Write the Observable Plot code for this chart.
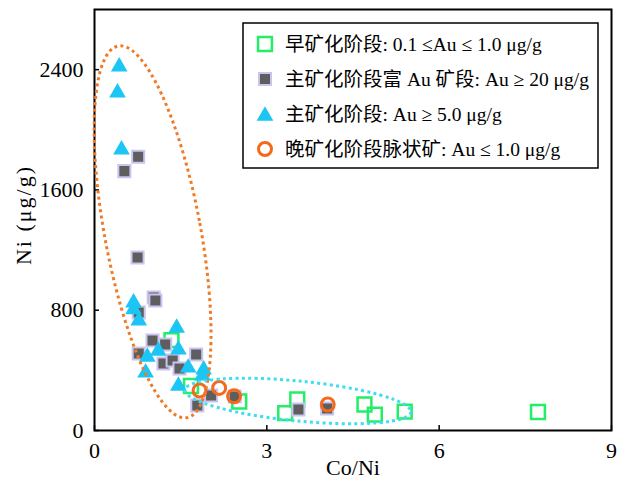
<!DOCTYPE html>
<html><head><meta charset="utf-8">
<script src="https://cdn.jsdelivr.net/npm/d3@7"></script>
<script src="https://cdn.jsdelivr.net/npm/@observablehq/plot@0.6"></script>
<style>body{margin:0;background:#fff}</style>
</head><body><div id="chart"></div>
<script>
// axis ticks
const xTicks = [0, 3, 6, 9];
const yTicks = [0, 800, 1600, 2400];
const xLabel = "Co/Ni";
const yLabel = "Ni (μg/g)";

// series names
const seriesNames = [
  "早矿化阶段: 0.1 ≤Au ≤ 1.0 μg/g",
  "主矿化阶段富 Au 矿段: Au ≥ 20 μg/g",
  "主矿化阶段: Au ≥ 5.0 μg/g",
  "晚矿化阶段脉状矿: Au ≤ 1.0 μg/g"
];

// 早矿化阶段 (open green squares)
const earlyX = [1.34, 1.68, 2.52, 3.32, 3.53, 4.70, 4.88, 5.40, 7.72];
const earlyY = [601, 296, 193, 116, 206, 173, 106, 126, 123];

// 主矿化阶段富Au矿段 (grey squares)
const richX = [0.76, 0.52, 0.75, 1.03, 1.06, 0.77, 1.01, 1.23, 0.77, 1.20, 1.36, 1.77, 1.48, 2.03, 2.44, 1.79, 3.55, 4.05];
const richY = [1821, 1725, 1151, 885, 865, 785, 599, 572, 512, 446, 466, 506, 413, 233, 226, 166, 140, 146];

// 主矿化阶段 (cyan triangles)
const mainX = [0.43, 0.40, 0.47, 0.68, 0.68, 0.77, 1.43, 1.46, 1.11, 0.92, 0.89, 1.63, 1.90, 1.88, 1.46];
const mainY = [2420, 2247, 1868, 850, 805, 730, 683, 537, 530, 490, 384, 417, 404, 364, 297];

// 晚矿化阶段脉状矿 (orange circles)
const lateX = [1.83, 2.17, 2.43, 4.06];
const lateY = [266, 283, 228, 173];

// dotted field ellipses: centre in data units
const ellipseCx = [1.02, 3.55];
const ellipseCy = [1318, 193];

const colors = {green: "#22EE66", grey: "#5E5E5E", lav: "#C9C4F0", cyan: "#1CC6F4", orange: "#F26A1A", orangeDot: "#F07A26", cyanDot: "#3EDDF2"};
const FONT = "'Liberation Serif', 'Times New Roman', 'Noto Sans CJK SC', serif";

const pts = (X, Y) => X.map((x, i) => ({x, y: Y[i]}));

const plot = Plot.plot({
  width: 621, height: 484,
  marginLeft: 94, marginRight: 10, marginTop: 9, marginBottom: 54,
  style: {fontFamily: FONT, fontSize: "22px", background: "white", color: "black"},
  x: {domain: [0, 9], label: null, axis: null},
  y: {domain: [0, 2800], label: null, axis: null},
  marks: [
    Plot.axisX(xTicks, {tickSize: 0, tickPadding: 12, fontSize: 22, tickFormat: (d) => String(d), label: null}),
    Plot.axisY(yTicks, {tickSize: 0, tickPadding: 11, fontSize: 22, tickFormat: (d) => String(d), label: null}),
    Plot.ruleX(xTicks, {y1: 0, y2: 0, insetTop: -5, stroke: "black", strokeWidth: 1.5}),
    Plot.ruleY(yTicks, {x1: 0, x2: 0, insetRight: -5, stroke: "black", strokeWidth: 1.5}),
    Plot.dot(pts(earlyX, earlyY), {x: "x", y: "y", symbol: "square", r: 7.8, fill: "none", stroke: colors.green, strokeWidth: 2.5}),
    Plot.dot(pts(richX, richY), {x: "x", y: "y", symbol: "square", r: 6.8, fill: colors.grey, stroke: colors.lav, strokeWidth: 2}),
    Plot.dot(pts(mainX, mainY), {x: "x", y: "y", symbol: "triangle", r: 6.2, fill: colors.cyan, stroke: "none"}),
    Plot.dot(pts(lateX, lateY), {x: "x", y: "y", symbol: "circle", r: 6.5, fill: "none", stroke: colors.orange, strokeWidth: 3}),
    Plot.frame({stroke: "black", strokeWidth: 2}),
    Plot.text([xLabel], {frameAnchor: "bottom", dy: 44, fontSize: 22})
  ]
});
document.getElementById("chart").appendChild(plot);

const svg = d3.select(plot);

// y axis title
svg.append("text")
  .attr("transform", "translate(31,215) rotate(-90)")
  .attr("text-anchor", "middle").attr("font-family", FONT).attr("font-size", 22)
  .attr("letter-spacing", "2px").attr("fill", "black").text(yLabel);

const sx = plot.scale("x"), sy = plot.scale("y");
const fx = sx.apply ? (v) => sx.apply(v) : d3.scaleLinear(sx.domain, sx.range);
const fy = sy.apply ? (v) => sy.apply(v) : d3.scaleLinear(sy.domain, sy.range);

// ellipse shapes (pixel radii & rotation)
const ellipseShape = [
  {rx: 48, ry: 189, rot: -10.5, color: colors.orangeDot},
  {rx: 113.5, ry: 20, rot: 5.6, color: colors.cyanDot}
];
ellipseShape.forEach((e, i) => {
  svg.append("ellipse")
    .attr("cx", 0).attr("cy", 0).attr("rx", e.rx).attr("ry", e.ry)
    .attr("transform", `translate(${fx(ellipseCx[i])},${fy(ellipseCy[i])}) rotate(${e.rot})`)
    .attr("fill", "none").attr("stroke", e.color).attr("stroke-width", 3)
    .attr("stroke-dasharray", "3 3.3");
});

// legend
const lg = svg.append("g").attr("text-anchor", "start");
lg.append("rect").attr("x", 243).attr("y", 23).attr("width", 355).attr("height", 145)
  .attr("fill", "white").attr("stroke", "black").attr("stroke-width", 1.5);
const rowY = [44, 79, 114, 149];
const sym = [
  {type: d3.symbolSquare, r: 7.8, fill: "none", stroke: colors.green, sw: 2.5},
  {type: d3.symbolSquare, r: 6.8, fill: colors.grey, stroke: colors.lav, sw: 2},
  {type: d3.symbolTriangle, r: 6.2, fill: colors.cyan, stroke: "none", sw: 0},
  {type: d3.symbolCircle, r: 6.5, fill: "none", stroke: colors.orange, sw: 3}
];
seriesNames.forEach((name, i) => {
  const s = sym[i];
  lg.append("path").attr("d", d3.symbol(s.type, Math.PI * s.r * s.r)())
    .attr("transform", `translate(265,${rowY[i] + (i === 2 ? 2 : 0)})`)
    .attr("fill", s.fill).attr("stroke", s.stroke).attr("stroke-width", s.sw);
  lg.append("text").attr("x", 285).attr("y", rowY[i] + 7).attr("text-anchor", "start")
    .attr("font-family", FONT).attr("font-size", 19.5).attr("fill", "black").text(name);
});
</script>
</body></html>
